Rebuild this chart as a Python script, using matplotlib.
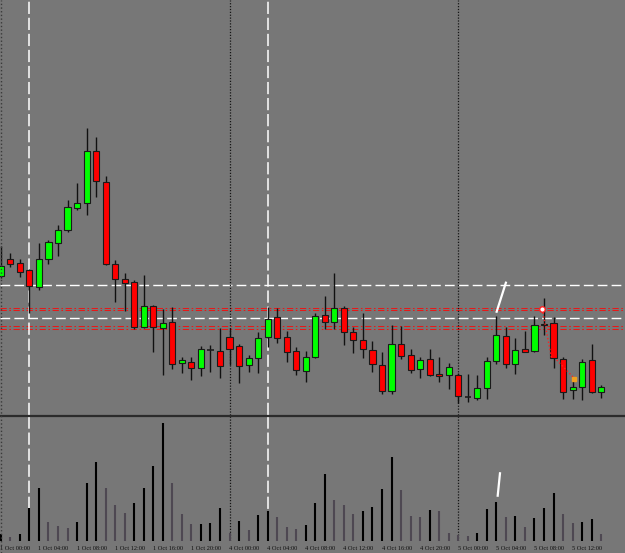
import matplotlib
matplotlib.use('Agg')
from matplotlib import pyplot as plt
from matplotlib.transforms import blended_transform_factory

# hourly bars, values (no price scale shown, units = pixel height)
opens = [139.3, 155.7, 152.3, 144.7, 128.3, 156.3, 171.7, 184.7, 207.3, 212.3,
         263.7, 233.3, 151.0, 136.0, 132.7, 87.7, 108.7, 87.0, 92.7, 52.0,
         53.3, 47.0, 65.0, 64.0, 77.7, 69.3, 49.7, 57.3, 78.3, 97.7,
         77.7, 63.7, 44.3, 58.3, 100.3, 92.7, 106.7, 82.7, 74.7, 65.0,
         50.0, 24.3, 71.0, 60.3, 46.3, 55.7, 41.3, 39.7, 39.7, 18.0,
         16.7, 26.7, 54.3, 78.7, 50.7, 66.0, 63.7, 90.5, 91.7, 55.7,
         24.7, 27.7, 54.7, 23.3]
highs = [169.0, 162.3, 156.0, 146.0, 171.7, 175.0, 190.3, 215.0, 232.3, 287.0,
         278.0, 239.0, 155.0, 141.7, 135.0, 140.0, 110.3, 105.7, 107.7, 57.7,
         57.7, 69.0, 70.0, 86.7, 86.7, 71.0, 60.0, 82.7, 108.3, 107.3,
         83.7, 67.7, 64.0, 101.7, 119.3, 141.7, 109.0, 87.7, 102.3, 74.3,
         63.0, 90.0, 89.0, 66.3, 57.7, 66.0, 57.7, 51.7, 41.7, 41.0,
         39.7, 58.3, 99.0, 87.7, 76.7, 84.0, 99.0, 116.7, 98.3, 57.7,
         36.3, 56.3, 71.0, 30.0]
lows = [137.0, 148.3, 138.3, 101.7, 125.0, 151.0, 159.0, 182.7, 205.0, 200.3,
        218.3, 150.0, 113.3, 104.0, 85.7, 86.7, 63.3, 39.7, 45.7, 41.7,
        34.7, 39.3, 42.7, 36.7, 50.0, 31.7, 43.3, 41.7, 68.3, 72.3,
        53.3, 40.0, 33.3, 56.7, 85.7, 85.7, 70.0, 61.7, 56.7, 43.3,
        21.0, 20.7, 55.7, 41.7, 36.7, 39.0, 33.3, 26.0, 11.7, 13.3,
        15.0, 15.7, 50.7, 46.7, 41.3, 62.7, 62.7, 80.0, 47.3, 15.7,
        15.7, 15.0, 21.7, 16.7]
closes = [149.0, 151.3, 143.0, 129.3, 155.7, 172.7, 184.7, 208.3, 211.7, 264.0,
          233.7, 151.3, 135.7, 131.7, 88.3, 109.3, 88.3, 91.7, 50.7, 54.7,
          46.7, 65.7, 65.0, 49.3, 65.7, 48.7, 56.7, 77.3, 96.3, 76.7,
          62.7, 45.0, 57.7, 98.7, 93.0, 106.7, 82.7, 75.0, 65.7, 51.3,
          24.3, 70.7, 59.3, 45.3, 54.7, 40.0, 39.3, 47.7, 19.0, 18.0,
          26.7, 54.0, 79.7, 51.3, 64.7, 62.7, 90.0, 91.0, 57.0, 23.3,
          27.7, 53.3, 22.7, 28.3]
volumes = [7, 4.3, 7, 33.3, 52.7, 19, 15, 12.7, 18.7, 58,
           79, 52.7, 35.7, 28.3, 37.7, 52.7, 75, 118.3, 58.3, 27,
           17, 17.3, 18.3, 33.3, 8, 20, 11, 26, 30.3, 24,
           14.3, 12.3, 15.7, 38, 67.3, 41, 36, 27, 30, 34,
           52, 84, 51, 25, 24, 31, 30, 8.3, 6, 5,
           8.3, 32, 39.3, 24, 24.7, 14, 23, 33.3, 48, 27.3,
           18, 18.7, 21.7, 7]
tick_bars = [0, 4, 8, 12, 16, 20, 24, 28, 32, 36, 40, 44, 48, 52, 56, 60]
tick_labels = ['1 Oct 00:00', '1 Oct 04:00', '1 Oct 08:00', '1 Oct 12:00',
               '1 Oct 16:00', '1 Oct 20:00', '4 Oct 00:00', '4 Oct 04:00',
               '4 Oct 08:00', '4 Oct 12:00', '4 Oct 16:00', '4 Oct 20:00',
               '5 Oct 00:00', '5 Oct 04:00', '5 Oct 08:00', '5 Oct 12:00']
white_levels = [130, 97]
red_levels = [107.2, 104.8, 88.6, 86.2]
dashed_bars = [3, 28]
day_bars = [24, 48]

BG = '#777777'
W, H = 625, 553
fig = plt.figure(figsize=(W / 100, H / 100), dpi=100, facecolor=BG)
ax = fig.add_axes([0, (H - 415) / H, 1, 415 / H], facecolor=BG)
axv = fig.add_axes([0, (H - 541) / H, 1, 126 / H], facecolor=BG)
xmin, xmax = -0.084, -0.084 + W / 9.53
for a in (ax, axv):
    a.set_xlim(xmin, xmax)
    a.set_xticks([]); a.set_yticks([])
    for s in a.spines.values():
        s.set_visible(False)
ax.set_ylim(0, 415)
axv.set_ylim(0, 126)

n = len(opens)
xs = list(range(n))

# levels
for lv in white_levels:
    ax.axhline(lv, color='white', lw=1, dashes=(7, 3), zorder=1)
for lv in red_levels:
    ax.axhline(lv, color='#e81818', lw=0.75, dashes=(6, 2.5, 1.5, 2.5), zorder=1)
for a in (ax, axv):
    for b in dashed_bars:
        a.axvline(b, color='white', lw=1.1, dashes=(8, 2.5), zorder=1)
    for b in day_bars:
        a.axvline(b, color='#151515', lw=0.9, dashes=(1, 1.3), zorder=1)

# candles
ax.vlines(xs, lows, highs, color='#111111', lw=1, zorder=2)
for i in xs:
    o, c = opens[i], closes[i]
    if abs(c - o) < 0.3:
        ax.hlines(o, i - 0.33, i + 0.33, color='#1e1e1e', lw=1.2, zorder=3)
        continue
    col = '#00ff00' if c > o else '#ff0000'
    ax.bar(i, abs(c - o), bottom=min(o, c), width=0.64, color=col,
           edgecolor='#1a1a1a', linewidth=0.8, zorder=3)

# drawn objects
ax.plot([52.03, 53.0], [103.3, 132.3], color='white', lw=1.6, zorder=4)
ax.plot([56.82, 57.8], [106, 56], color='#ff2020', lw=1, ls=':', zorder=4)
ax.plot([58.33, 60.07], [55, 37.7], color='#ff2020', lw=1, ls=':', zorder=4)
ax.plot([56.82], [106], 'o', ms=4, mfc='white', mec='#ff2020', mew=1, zorder=5)
ax.plot([60.15], [36], 's', ms=3, color='#f0a020', zorder=5)
axv.plot([52.14, 52.38], [45.3, 67.7], color='white', lw=1.6, zorder=4)

# volumes: black when rising, dim when falling
vcol = ['#000000' if i == 0 or volumes[i] >= volumes[i - 1] else '#4e4852' for i in xs]
axv.vlines(xs, 0, volumes, colors=vcol, lw=1.5, zorder=2)

# separator and left border
fig.add_artist(plt.Line2D([0, 1], [(H - 415.5) / H] * 2, color='#2b2b2b', lw=1.6))
fig.add_artist(plt.Line2D([0.5 / W] * 2, [0, 1], color='#3a3a3a', lw=1, ls=':'))

# time labels
tr = blended_transform_factory(axv.transData, fig.transFigure)
for b, lab in zip(tick_bars, tick_labels):
    axv.text(b - 0.05, (H - 548) / H, lab, transform=tr, ha='left', va='center',
             fontsize=4.6, family='Liberation Serif', color='#111111')

fig.savefig('out.png', dpi=100, facecolor=BG)
